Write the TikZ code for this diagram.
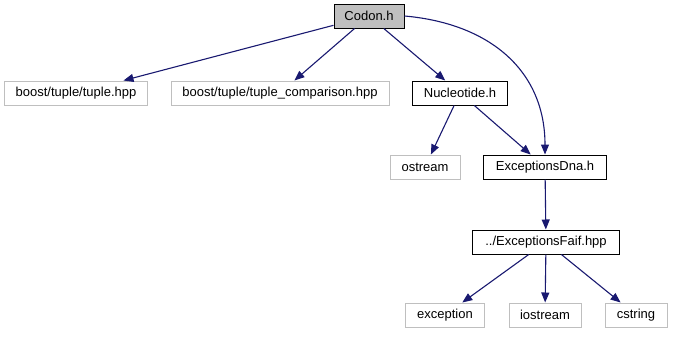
\documentclass[tikz,border=0pt]{standalone}
\usepackage{fontspec}
\setmainfont{Liberation Sans}
\usepackage{tikz}
\usetikzlibrary{arrows.meta,positioning}
\definecolor{coloredge}{HTML}{191970}
\definecolor{colorext}{HTML}{BFBFBF}
\definecolor{colorroot}{HTML}{BFBFBF}
\tikzset{
  hdr/.style={draw=black, rectangle, line width=1bp, minimum height=24bp,
    inner xsep=5bp, font=\fontsize{13bp}{15bp}\selectfont},
  hdrroot/.style={hdr, fill=colorroot},
  hdrext/.style={hdr, draw=colorext},
  incl/.style={coloredge, line width=1.1bp, -{Triangle[length=10bp,width=8bp]}}
}
\begin{document}
\begin{tikzpicture}[x=1bp, y=-1bp]
\useasboundingbox (0,0) rectangle (673,336);
\node[hdrroot, minimum width=70bp] (codon) at (369,16) {Codon.h};
\node[hdrext, minimum width=142bp] (tuple) at (76,93) {boost/tuple/tuple.hpp};
\node[hdrext, minimum width=218bp] (tuplecmp) at (280,93) {boost/tuple/tuple\_comparison.hpp};
\node[hdr, minimum width=95bp] (nucl) at (460,93) {Nucleotide.h};
\node[hdrext, minimum width=70bp] (ostream) at (425,167) {ostream};
\node[hdr, minimum width=123bp] (excdna) at (545,167) {ExceptionsDna.h};
\node[hdr, minimum width=147bp] (excfaif) at (546,242) {../ExceptionsFaif.hpp};
\node[hdrext, minimum width=79bp] (exception) at (445,315) {exception};
\node[hdrext, minimum width=72bp] (iostream) at (545,315) {iostream};
\node[hdrext, minimum width=62bp] (cstring) at (636,315) {cstring};
\draw[incl] (codon) -- (tuple);
\draw[incl] (codon) -- (tuplecmp);
\draw[incl] (codon) -- (nucl);
\draw[incl] (codon.east) to [out=-5, in=90, looseness=1.1] (excdna.north);
\draw[incl] (nucl) -- (ostream);
\draw[incl] (nucl) -- (excdna);
\draw[incl] (excdna) -- (excfaif);
\draw[incl] (excfaif) -- (exception);
\draw[incl] (excfaif) -- (iostream);
\draw[incl] (excfaif) -- (cstring);
\end{tikzpicture}
\end{document}
